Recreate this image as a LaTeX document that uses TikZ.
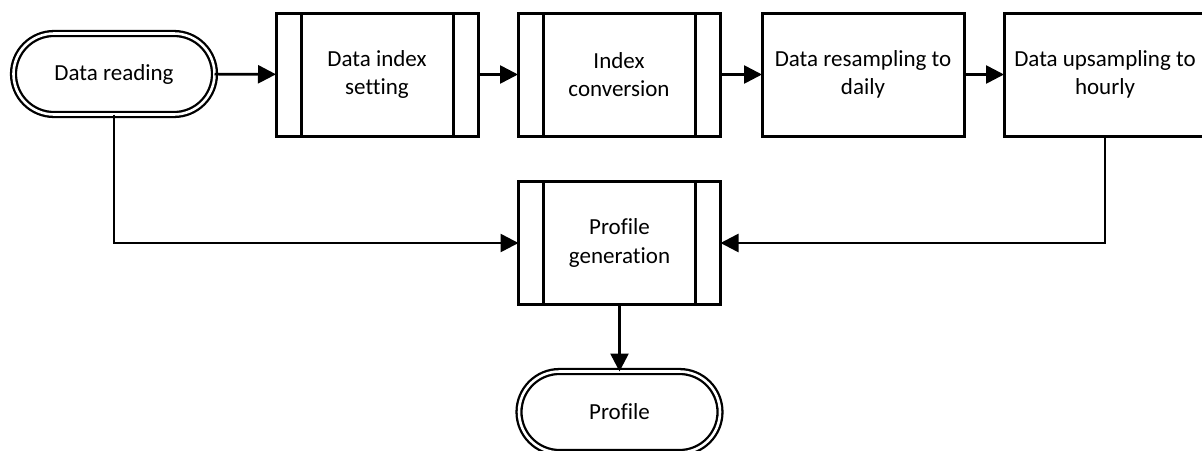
\documentclass[tikz,border=0pt]{standalone}
\usepackage{fontspec}
\setmainfont{Carlito}[Ligatures=NoCommon]
\usepackage{tikz}
\usetikzlibrary{shapes.misc,arrows.meta}

\begin{document}
\begin{tikzpicture}[x=1pt,y=-1pt]
	\tikzstyle{term} = [draw=black, rounded rectangle, double, line width=2.3, double distance=2.6, minimum width=201, minimum height=81, inner sep=0, outer sep=0, align=center, font=\fontsize{23}{28.5}\selectfont]
	\tikzstyle{proc} = [draw=black, rectangle, line width=3, minimum width=202, minimum height=123, inner sep=0, outer sep=0, align=center, font=\fontsize{23}{28.5}\selectfont]
	\tikzstyle{flow} = [draw=black, line width=2.6, -{Triangle[length=18,width=18]}]
	\useasboundingbox (0,0) rectangle (1202,450);
	\clip (0,0) rectangle (1202,450);
		\node[term] (read) at (114,74) {Data reading};
		\node[proc] (idx) at (377,74.5) {Data index\\setting};
		\node[proc] (conv) at (619,74.5) {Index\\conversion};
		\node[proc] (daily) at (863,74.5) {Data resampling to\\daily};
		\node[proc] (hourly) at (1105,74.5) {Data upsampling to\\hourly};
		\node[proc] (gen) at (619.5,243) {Profile\\generation};
		\node[term] (prof) at (619.5,412) {Profile};
	% side bars of the predefined processes
	\foreach \n in {idx,conv,gen} {
		\draw[line width=3] ([xshift=25]\n.north west) -- ([xshift=25]\n.south west);
		\draw[line width=3] ([xshift=-25]\n.north east) -- ([xshift=-25]\n.south east);
	}
	\draw[flow] (read) -- (idx);
	\draw[flow] (idx) -- (conv);
	\draw[flow] (conv) -- (daily);
	\draw[flow] (daily) -- (hourly);
	\draw[flow] (read.south) |- (gen.west);
	\draw[flow] (hourly.south) |- (gen.east);
	\draw[flow] (gen) -- (prof);
\end{tikzpicture}
\end{document}
